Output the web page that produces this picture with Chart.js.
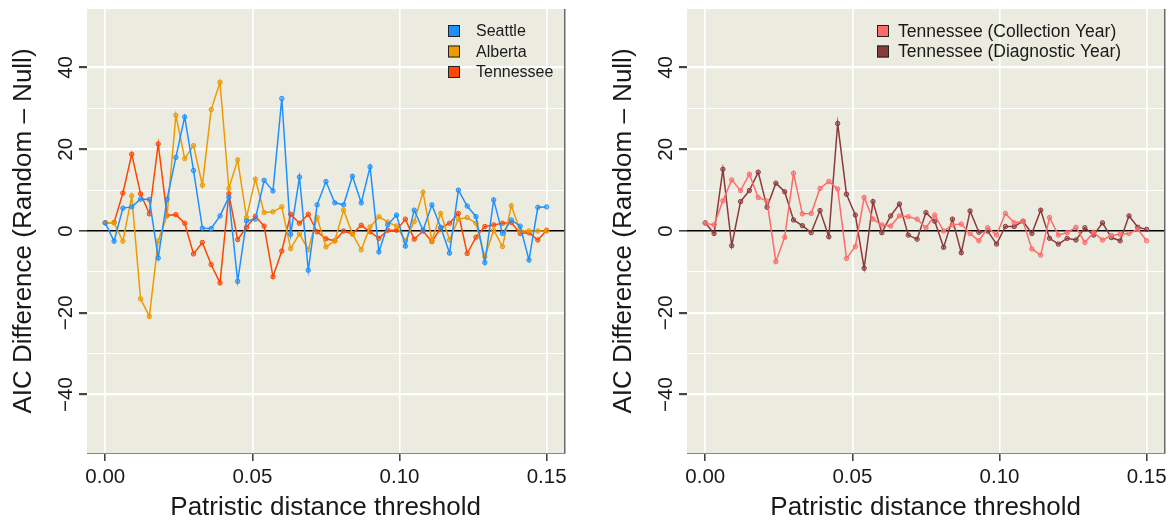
<!DOCTYPE html>
<html>
<head>
<meta charset="utf-8">
<script src="https://cdn.jsdelivr.net/npm/chart.js@4.4.1/dist/chart.umd.min.js"></script>
<style>
  body { margin: 0; width: 1176px; height: 523px; overflow: hidden; background: #fff; position: relative; }
  canvas { position: absolute; top: 0; }
</style>
</head>
<body>
<canvas id="panelA" width="600" height="523" style="left:0"></canvas>
<canvas id="panelB" width="600" height="523" style="left:600px"></canvas>
<script>
// umbrales de distancia patrística (eje x)
const thresholds = [0.000,0.003,0.006,0.009,0.012,0.015,0.018,0.021,0.024,0.027,0.030,0.033,0.036,0.039,0.042,0.045,0.048,
  0.051,0.054,0.057,0.060,0.063,0.066,0.069,0.072,0.075,0.078,0.081,0.084,0.087,0.090,0.093,0.096,0.099,0.102,
  0.105,0.108,0.111,0.114,0.117,0.120,0.123,0.126,0.129,0.132,0.135,0.138,0.141,0.144,0.147,0.150];

// panel izquierdo
const seattle = [2.0,-2.5,5.6,5.9,7.8,7.7,-6.6,7.8,18.0,27.9,14.8,0.7,0.6,3.7,8.3,-12.3,2.5,2.9,12.4,9.8,32.4,-0.8,13.2,-9.6,
  6.4,12.1,6.9,6.4,13.4,6.9,15.7,-5.1,1.5,3.9,-3.7,5.1,0.2,6.4,0.9,-5.4,10.0,6.1,3.5,-7.7,7.6,-0.6,2.7,1.2,-7.1,5.8,5.9];
const alberta = [2.0,2.0,-2.5,8.6,-16.6,-20.9,-2.4,3.7,28.3,17.7,20.9,11.2,29.7,36.4,10.4,17.4,3.3,12.7,4.5,4.7,5.9,-4.3,-0.7,
  -4.6,3.3,-3.9,-2.4,5.1,-0.7,-4.6,1.0,3.5,2.2,1.2,-2.4,2.3,9.5,-2.4,4.3,-2.2,2.9,3.3,1.9,-6.3,0.2,-3.8,6.2,0.1,0,0,0];
const tennessee = [2.0,2.1,9.3,18.8,9.1,4.2,21.3,3.8,4.0,1.9,-5.6,-2.8,-8.2,-12.7,9.1,-2.1,0.9,3.6,1.2,-11.2,-4.9,4.1,1.9,4.1,
  -0.2,-1.9,-2.4,0.0,-0.7,1.4,-0.2,-1.8,0.2,0.2,2.9,-2.0,0.0,-2.6,0.7,1.9,4.3,-5.5,-1.5,1.1,1.5,1.9,2.1,-0.6,-0.4,-2.2,0.2];

// panel derecho
const tnCollection = [1.9,1.5,7.4,12.5,9.9,13.9,8.2,7.3,-7.5,-1.5,14.1,4.2,4.3,10.4,12.1,10.3,-6.7,-3.8,8.2,2.9,1.5,1.2,3.7,3.5,
  2.9,0.8,3.9,0.0,1.5,1.7,-0.6,-2.4,0.8,-1.0,4.3,2.0,2.3,-4.4,-5.9,3.3,-1.0,-0.4,0.9,-2.8,-0.3,-2.2,-1.1,-0.8,-0.6,0.4,-2.4];
const tnDiagnostic = [2.0,-0.6,15.1,-3.6,7.2,9.9,14.4,5.8,11.7,9.6,2.7,1.3,-0.4,5.0,-1.4,26.3,9.0,3.9,-9.1,7.2,-0.4,3.7,6.6,-1.0,
  -2.0,4.5,2.4,-4.0,2.9,-5.3,4.9,-0.3,0.0,-3.2,1.1,1.1,2.4,-0.6,5.1,-1.8,-3.2,-1.8,-2.2,0.8,-1.0,2.0,-1.6,-2.4,3.7,0.9,0.4];

const xTicks = [0, 0.05, 0.10, 0.15];
const yGridTicks = [-40, -30, -20, -10, 0, 10, 20, 30, 40];
const yLabelTicks = [-40, -20, 0, 20, 40];

Chart.defaults.font.family = '"Liberation Sans", Arial, Helvetica, sans-serif';
Chart.defaults.color = '#1a1a1a';

function toPoints(vals) { return thresholds.map((t, i) => ({ x: t, y: vals[i] })); }

// fondo beige, borde derecho, etiquetas del eje y giradas y leyenda
const panelDecor = {
  id: 'panelDecor',
  beforeDraw(chart) {
    const a = chart.chartArea, ctx = chart.ctx;
    ctx.save();
    ctx.fillStyle = '#ecebe0';
    ctx.fillRect(a.left, a.top, a.right - a.left, a.bottom - a.top);
    ctx.restore();
  },
  afterDraw(chart, args, opts) {
    const a = chart.chartArea, ctx = chart.ctx, y = chart.scales.y;
    ctx.save();
    ctx.strokeStyle = '#444'; ctx.lineWidth = 1.2;
    ctx.beginPath(); ctx.moveTo(a.right + 0.5, a.top); ctx.lineTo(a.right + 0.5, a.bottom); ctx.stroke();

    ctx.fillStyle = '#1a1a1a';
    ctx.font = '20.5px "Liberation Sans", Arial, sans-serif';
    ctx.textAlign = 'center'; ctx.textBaseline = 'alphabetic';
    yLabelTicks.forEach(v => {
      ctx.save();
      ctx.translate(a.left - 15.5, y.getPixelForValue(v));
      ctx.rotate(-Math.PI / 2);
      ctx.fillText(v < 0 ? '\u2212' + Math.abs(v) : String(v), 0, 0);
      ctx.restore();
    });

    ctx.font = opts.fontSize + 'px "Liberation Sans", Arial, sans-serif';
    ctx.textAlign = 'left'; ctx.textBaseline = 'middle';
    chart.data.datasets.forEach((ds, i) => {
      const cy = 31 + i * 20.5;
      ctx.fillStyle = ds.borderColor;
      ctx.fillRect(opts.boxX, cy - 6, 12, 12);
      ctx.strokeStyle = '#222'; ctx.lineWidth = 1;
      ctx.strokeRect(opts.boxX + 0.5, cy - 5.5, 11, 11);
      ctx.fillStyle = '#1a1a1a';
      ctx.fillText(ds.label, opts.textX, cy + 1);
    });
    ctx.restore();
  }
};

function makePanel(id, series, boxX, textX, fontSize) {
  return new Chart(document.getElementById(id), {
    type: 'line',
    data: {
      datasets: series.map(s => ({
        label: s.label,
        data: toPoints(s.values),
        borderColor: s.color,
        backgroundColor: s.color,
        pointBackgroundColor: s.fill,
        pointBorderColor: s.color,
        borderWidth: 1.5,
        pointRadius: 2.2,
        pointBorderWidth: 1,
        tension: 0
      }))
    },
    options: {
      responsive: false, animation: false, devicePixelRatio: 1,
      layout: { padding: { top: 9, right: 35.7, left: 0, bottom: 0 } },
      plugins: { legend: { display: false }, tooltip: { enabled: false }, panelDecor: { boxX, textX, fontSize } },
      scales: {
        x: {
          type: 'linear', min: -0.0062, max: 0.156,
          afterBuildTicks: sc => { sc.ticks = xTicks.map(v => ({ value: v })); },
          afterFit: sc => { sc.height = 70; },
          ticks: { callback: v => v.toFixed(2), font: { size: 20.5 }, padding: 4, maxRotation: 0, autoSkip: false },
          grid: { color: '#ffffff', lineWidth: 1.6, tickColor: '#444', tickLength: 8 },
          border: { display: true, color: '#888', width: 1 },
          title: { display: true, text: 'Patristic distance threshold', font: { size: 26 }, padding: { top: 0, bottom: 0 } }
        },
        y: {
          min: -54.3, max: 54.3,
          afterBuildTicks: sc => { sc.ticks = yGridTicks.map(v => ({ value: v })); },
          afterFit: sc => { sc.width = 87; },
          ticks: { display: false },
          grid: {
            color: c => c.tick.value === 0 ? '#000' : '#fff',
            lineWidth: c => c.tick.value === 0 ? 1.6 : (c.tick.value % 20 === 0 ? 2.2 : 1.1),
            tickColor: c => c.tick.value % 20 === 0 ? '#444' : 'rgba(0,0,0,0)',
            tickLength: 8
          },
          border: { display: false },
          title: { display: true, text: 'AIC Difference (Random \u2013 Null)', font: { size: 26 }, padding: { top: 8, bottom: 0 } }
        }
      }
    },
    plugins: [panelDecor]
  });
}

makePanel('panelA', [
  { label: 'Seattle', values: seattle, color: '#1e90ff', fill: 'rgba(30,144,255,0.45)' },
  { label: 'Alberta', values: alberta, color: '#ee9a00', fill: 'rgba(238,154,0,0.45)' },
  { label: 'Tennessee', values: tennessee, color: '#ff4500', fill: 'rgba(255,69,0,0.45)' }
], 448, 476, 16);

makePanel('panelB', [
  { label: 'Tennessee (Collection Year)', values: tnCollection, color: '#ff6a6a', fill: 'rgba(255,106,106,0.45)' },
  { label: 'Tennessee (Diagnostic Year)', values: tnDiagnostic, color: '#8b3a3a', fill: 'rgba(139,58,58,0.45)' }
], 277, 298, 17.5);
</script>
</body>
</html>
